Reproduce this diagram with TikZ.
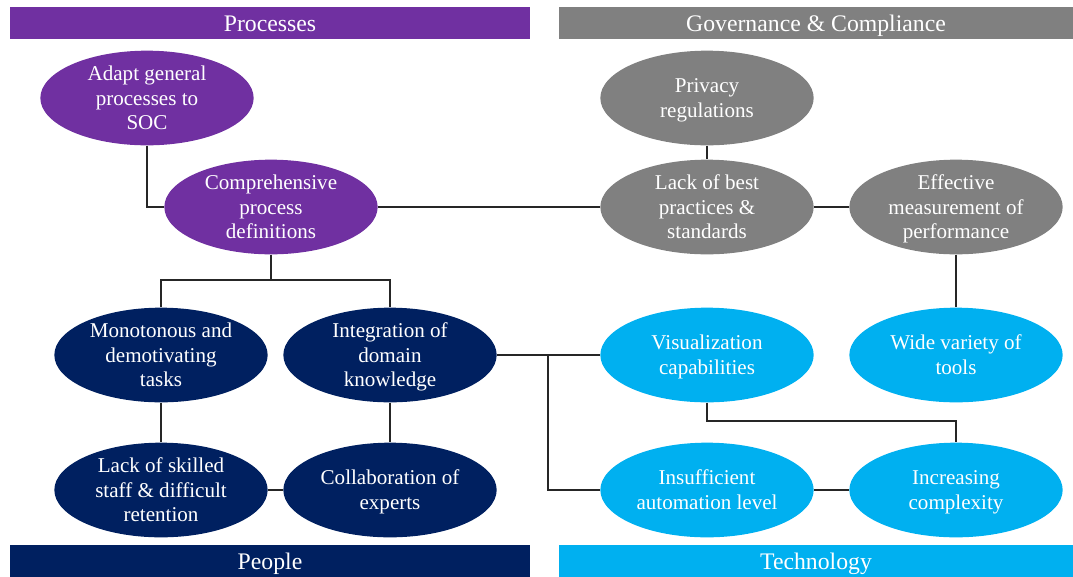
\documentclass[tikz,border=0pt]{standalone}
\usepackage{fontspec}
\setmainfont{Liberation Serif}
\usetikzlibrary{shapes.geometric}
\definecolor{procpurple}{rgb}{0.44,0.19,0.63}
\definecolor{govgray}{rgb}{0.5,0.5,0.5}
\definecolor{peoplenavy}{rgb}{0,0.125,0.376}
\definecolor{techblue}{rgb}{0,0.69,0.94}
\begin{document}
\begin{tikzpicture}[x=0.75pt,y=-0.75pt,
  bubble/.style={ellipse,minimum width=160pt,minimum height=71pt,inner xsep=-5pt,inner ysep=-8pt,
    text=white,align=center,font=\fontsize{15.8}{18.5}\selectfont,
    text height=51.1pt,text depth=3.4pt},
  twolines/.style={text height=32.6pt},
  bar/.style={rectangle,minimum height=23.5pt,inner sep=0pt,text=white,
    font=\fontsize{17.8}{20}\selectfont,text height=15.9pt,text depth=3.85pt},
  link/.style={line width=1.1pt,black!85}]
\useasboundingbox (0,0) rectangle (1073,576);
\node[bar,fill=procpurple,minimum width=390pt] (proc) at (270,23) {Processes};
\node[bar,fill=govgray,minimum width=385.5pt] (gov) at (816,23) {Governance \& Compliance};
\node[bar,fill=peoplenavy,minimum width=390pt] (people) at (270,561) {People};
\node[bar,fill=techblue,minimum width=385.5pt] (tech) at (816,561) {Technology};
\node[bubble,fill=procpurple] (adapt) at (147,98) {Adapt general\\processes to\\SOC};
\node[bubble,fill=procpurple] (comp) at (271,207) {Comprehensive\\process\\definitions};
\node[bubble,twolines,fill=govgray] (priv) at (707,98) {Privacy\\regulations};
\node[bubble,fill=govgray] (best) at (707,207) {Lack of best\\practices \&\\standards};
\node[bubble,fill=govgray] (meas) at (956,207) {Effective\\measurement of\\performance};
\node[bubble,fill=peoplenavy] (mono) at (161,355) {Monotonous and\\demotivating\\tasks};
\node[bubble,fill=peoplenavy] (integ) at (390,355) {Integration of\\domain\\knowledge};
\node[bubble,fill=peoplenavy] (staff) at (161,490) {Lack of skilled\\staff \& difficult\\retention};
\node[bubble,twolines,fill=peoplenavy] (collab) at (390,490) {Collaboration of\\experts};
\node[bubble,twolines,fill=techblue] (vis) at (707,355) {Visualization\\capabilities};
\node[bubble,twolines,fill=techblue] (tools) at (956,355) {Wide variety of\\tools};
\node[bubble,twolines,fill=techblue] (auto) at (707,490) {Insufficient\\automation level};
\node[bubble,twolines,fill=techblue] (cplx) at (956,490) {Increasing\\complexity};
\coordinate (pj) at (271,280);
\coordinate (tj) at (548,355);
\coordinate (vj) at (707,421);
\draw[link] (adapt.south) |- (comp.west);
\draw[link] (comp.east) -- (best.west);
\draw[link] (priv) -- (best);
\draw[link] (best) -- (meas);
\draw[link] (meas) -- (tools);
\draw[link] (comp.south) -- (pj) -| (mono.north);
\draw[link] (pj) -| (integ.north);
\draw[link] (mono) -- (staff);
\draw[link] (integ) -- (collab);
\draw[link] (staff) -- (collab);
\draw[link] (integ.east) -- (vis.west);
\draw[link] (tj) |- (auto.west);
\draw[link] (vis.south) -- (vj) -| (cplx.north);
\draw[link] (auto) -- (cplx);
\end{tikzpicture}
\end{document}
